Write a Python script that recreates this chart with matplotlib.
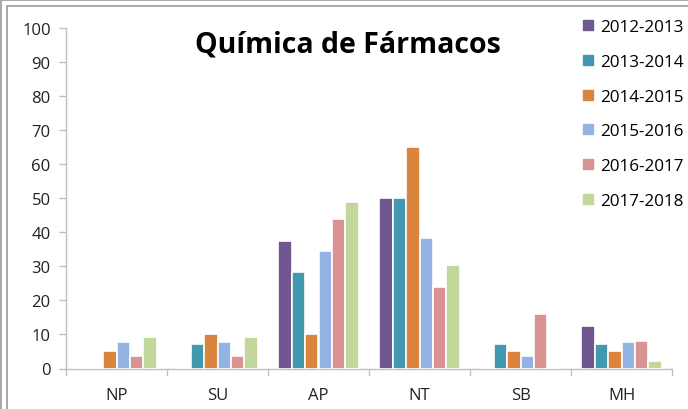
import matplotlib
matplotlib.use("Agg")
import matplotlib.pyplot as plt
from matplotlib.patches import Rectangle
from matplotlib.lines import Line2D
import numpy as np

plt.rcParams['font.family'] = ['Open Sans', 'DejaVu Sans']

categories = ["NP", "SU", "AP", "NT", "SB", "MH"]
seasons = ["2012-2013", "2013-2014", "2014-2015", "2015-2016", "2016-2017", "2017-2018"]
v_2012_2013 = [0, 0, 37.5, 50, 0, 12.5]
v_2013_2014 = [0, 7.1, 28.3, 50, 7.1, 7.1]
v_2014_2015 = [5, 10, 10, 65, 5, 5]
v_2015_2016 = [7.7, 7.7, 34.6, 38.3, 3.8, 7.7]
v_2016_2017 = [3.8, 3.8, 44, 24, 16, 8]
v_2017_2018 = [9.3, 9.3, 48.8, 30.3, 0, 2.3]
series = [v_2012_2013, v_2013_2014, v_2014_2015, v_2015_2016, v_2016_2017, v_2017_2018]
colors = ["#70578f", "#4198af", "#db843d", "#93b3e3", "#d99392", "#c3d69b"]
y_ticks = [0, 10, 20, 30, 40, 50, 60, 70, 80, 90, 100]

W, H = 688, 410
fig = plt.figure(figsize=(W / 100, H / 100), dpi=100)

# outer frame lines
for (x0, y0) in [(1, 1), (7, 7)]:
    fig.patches.append(Rectangle((x0 / W, 0 - 0.01), 1.2, (H - y0) / H + 0.01,
                                 transform=fig.transFigure, fill=False,
                                 edgecolor="#9a9a9a", linewidth=1.2))

ax_left, ax_right, ax_top, ax_bottom = 66, 672, 29, 369.5
ax = fig.add_axes([ax_left / W, 1 - ax_bottom / H,
                   (ax_right - ax_left) / W, (ax_bottom - ax_top) / H])

n = len(series)
x = np.arange(len(categories))
group_w = 0.8
bw = group_w / n
for i, (vals, c) in enumerate(zip(series, colors)):
    pos = x - group_w / 2 + bw * (i + 0.5)
    ax.bar(pos, vals, width=bw, color=c, edgecolor="white", linewidth=1.2,
           label=seasons[i], zorder=3)

ax.set_xlim(-0.5, len(categories) - 0.5)
ax.set_ylim(0, 100)
ax.set_yticks(y_ticks)
ax.set_yticklabels([str(t) for t in y_ticks], fontsize=12, color="#222222")
ax.set_xticks(x)
ax.set_xticklabels(categories, fontsize=12, color="#222222")
ax.tick_params(axis="x", length=0, pad=13)
ax.tick_params(axis="y", length=5, color="#bfbfbf", width=1, pad=6)

# category boundary ticks on the x axis
for b in np.arange(-0.5, len(categories), 1.0):
    ax.plot([b, b], [0, -1.8], color="#bfbfbf", lw=1, clip_on=False, zorder=4)

for s in ["top", "right"]:
    ax.spines[s].set_visible(False)
for s in ["left", "bottom"]:
    ax.spines[s].set_color("#bfbfbf")
    ax.spines[s].set_linewidth(1)

fig.text(348 / W, 1 - 45 / H, "Química de Fármacos", ha="center", va="center",
         fontsize=20.5, fontweight="bold", color="black")

handles = [Line2D([0], [0], marker="s", linestyle="none", markersize=7,
                  markerfacecolor=c, markeredgecolor=c) for c in colors]
leg = fig.legend(handles, seasons, loc="upper left",
                 bbox_to_anchor=(582 / W, 1 - 20 / H), frameon=False,
                 fontsize=12.3, handlelength=0.7, handletextpad=0.35,
                 labelspacing=1.1, borderaxespad=0, borderpad=0)

fig.savefig("out.png", dpi=100)
